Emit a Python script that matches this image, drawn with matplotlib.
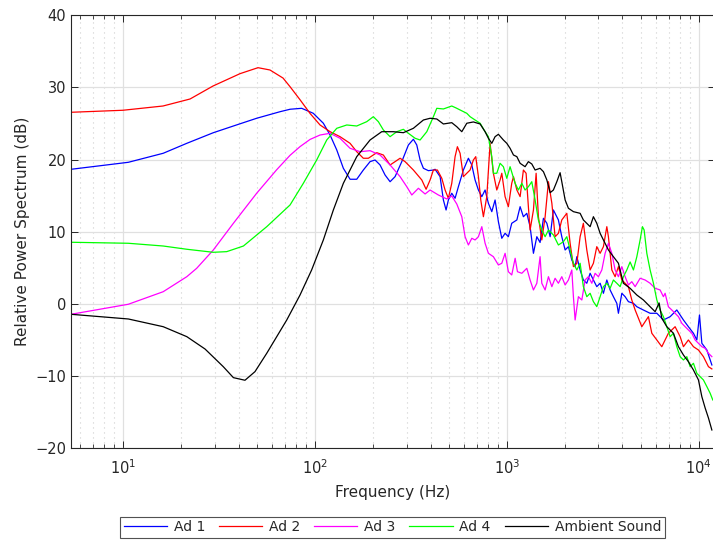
import matplotlib
matplotlib.use('Agg')
import matplotlib.pyplot as plt
from matplotlib.ticker import LogLocator, MultipleLocator, NullFormatter

# frequencies in Hz and relative power in dB
ad1_f = [5.36, 10.66, 16.2, 21.5, 29.55, 37.6, 49.7, 65.8, 74.2, 85.3, 98, 110.6, 119.9, 129.9, 140.6,
         152.4, 165.1, 178.7, 193.7, 205.7, 218.4, 231.9, 246.3, 261.5, 283.4, 306.8, 325.7, 339.2, 353,
         367.3, 390, 414.1, 422.6, 448.7, 466.8, 482.1, 495.6, 516.2, 537.1, 558.9, 593.4, 630.1, 656.4,
         682.8, 710.6, 740.1, 769.9, 801, 834.3, 867.9, 903.1, 940.7, 978.6, 1018, 1060, 1127, 1172, 1219,
         1270, 1321, 1375, 1432, 1489, 1550, 1615, 1680, 1747, 1855, 1932, 2011, 2092, 2179, 2267, 2314,
         2407, 2503, 2608, 2714, 2823, 2940, 3060, 3183, 3316, 3450, 3589, 3738, 3811, 3970, 4130, 4296,
         4563, 4753, 5144, 5574, 6042, 6538, 7087, 7678, 8313, 8823, 9373, 9763, 10079, 10369, 11013, 11690]
ad1_db = [18.66, 19.63, 20.88, 22.26, 23.73, 24.66, 25.73, 26.64, 26.98, 27.11, 26.42, 25.04, 23.41, 21.34, 18.8,
          17.28, 17.28, 18.56, 19.72, 19.95, 19.26, 17.87, 16.94, 17.64, 19.72, 22.03, 22.82, 22.03, 19.95,
          18.8, 18.47, 18.56, 18.66, 17.64, 14.41, 13.02, 14.41, 15.34, 14.64, 16.25, 18.56, 20.19, 19.26,
          17.18, 15.79, 14.87, 15.79, 13.95, 12.79, 14.41, 11.4, 9.1, 9.79, 9.32, 11.18, 11.64, 13.48, 12.09,
          12.56, 10.71, 7.02, 9.32, 8.52, 11.87, 11.18, 9.32, 13.02, 11.64, 9.32, 7.48, 7.94, 6.09, 5.17, 6.55,
          4.71, 3.32, 2.87, 4.25, 3.32, 2.4, 2.87, 1.48, 3.32, 1.94, 1.01, 0.09, -1.29, 1.48, 1.01, 0.32,
          0.09, -0.38, -0.84, -1.29, -1.29, -2.22, -1.76, -0.83, -2.22, -3.15, -4.06, -4.99, -1.53, -5.45, -6.38, -8.45]

ad2_f = [5.36, 10.0, 16.16, 22.35, 29.44, 40.7, 50.5, 58.3, 68.2, 74.2, 83.6, 94.3, 106.3, 119.9, 135.1,
         152.4, 165.1, 178.7, 189.8, 209.9, 227.2, 246.3, 261.5, 277.7, 294.8, 325.7, 360.3, 379.4, 398,
         414.1, 434.5, 458, 476.4, 495.6, 516.2, 537.1, 552.2, 570.4, 593.4, 618.1, 643.1, 669, 688.3, 710.6,
         731, 754.4, 785.8, 817.5, 850.4, 885.8, 921.7, 940.7, 978.6, 1018, 1060, 1082, 1127, 1172, 1219,
         1259, 1294, 1321, 1375, 1420, 1459, 1520, 1582, 1646, 1715, 1783, 1855, 1932, 2052, 2135, 2221,
         2314, 2407, 2503, 2608, 2714, 2823, 2940, 3060, 3183, 3316, 3380, 3521, 3663, 3811, 3970, 4130,
         4296, 4475, 4657, 5046, 5462, 5689, 6042, 6413, 6940, 7523, 7991, 8313, 8823, 9373, 9955, 10568,
         11223, 11690]
ad2_db = [26.56, 26.84, 27.43, 28.4, 30.2, 31.91, 32.74, 32.42, 31.3, 30.1, 28.3, 26.4, 24.8, 23.87, 23.18,
          22.26, 21.1, 20.19, 20.19, 20.96, 20.64, 19.26, 19.72, 20.19, 19.72, 18.56, 17.18, 15.89, 17.18,
          18.56, 18.56, 17.41, 15.79, 14.64, 16.72, 20.41, 21.79, 20.88, 17.64, 18.11, 18.56, 19.95, 20.41, 17.64,
          14.41, 12.09, 14.87, 22.26, 18.11, 15.79, 17.18, 18.11, 14.87, 13.48, 16.72, 17.64, 15.79, 14.87, 18.56,
          18.11, 13.48, 10.25, 13.02, 18.11, 12.09, 8.87, 12.09, 16.94, 13.95, 9.32, 9.79, 11.64, 12.56, 8.41, 5.17,
          5.64, 9.32, 11.18, 7.48, 4.71, 5.64, 7.94, 7.02, 7.94, 10.71, 9.32, 4.71, 3.78, 5.17, 3.32, 2.87,
          2.4, 0.55, -0.83, -3.15, -1.76, -4.06, -4.99, -5.92, -4.06, -3.15, -4.53, -5.92, -4.99, -5.92, -6.38, -7.3,
          -8.69, -9.0]

ad3_f = [5.36, 10.66, 16.2, 21.5, 24.2, 29.55, 37.6, 49.7, 63.2, 74.2, 83.6, 94.3, 106.3, 119.9, 135.1,
         152.4, 171.8, 193.7, 218.4, 246.3, 277.7, 300.9, 319.6, 345.9, 374.9, 398, 439.6, 486.2, 516.2,
         548.2, 582.2, 605.6, 630.1, 656.4, 682.8, 710.6, 740.1, 769.9, 801, 850.4, 903.1, 940.7, 978.6,
         1018, 1060, 1104, 1135, 1196, 1270, 1321, 1375, 1432, 1489, 1520, 1582, 1646, 1715, 1783, 1855,
         1932, 2011, 2092, 2179, 2221, 2267, 2358, 2457, 2555, 2659, 2770, 2881, 2998, 3123, 3249, 3380,
         3521, 3663, 3811, 3970, 4130, 4296, 4475, 4657, 4944, 5250, 5574, 5920, 6284, 6538, 6673, 6940,
         7233, 7523, 7830, 8156, 8484, 8823, 9196, 9566, 9955, 10369, 10786, 11223, 11690]
ad3_db = [-1.43, -0.04, 1.7, 3.78, 4.94, 7.48, 11.18, 15.34, 18.6, 20.6, 21.8, 22.8, 23.41, 23.65, 22.96,
          21.57, 21.1, 21.24, 20.64, 19.26, 17.64, 16.25, 15.1, 16.03, 15.24, 15.79, 15.1, 14.55, 14.96,
          13.85, 12.09, 9.32, 8.17, 9.1, 8.87, 9.32, 10.71, 8.41, 7.02, 6.55, 5.4, 5.64, 7.02,
          4.47, 4.02, 6.33, 4.47, 4.25, 4.94, 3.32, 1.94, 2.87, 6.55, 2.87, 1.94, 3.78, 2.4, 3.56, 2.87,
          3.78, 2.63, 3.32, 4.71, 1.01, -2.22, 1.01, 0.55, 3.32, 3.78, 2.87, 4.25, 3.78, 4.71, 7.02, 8.41,
          7.02, 4.71, 3.78, 5.17, 3.78, 2.63, 3.09, 2.4, 3.56, 3.32, 2.87, 2.17, 1.94, 1.01, 1.48, -0.38,
          -0.84, -1.29, -1.76, -2.68, -3.15, -3.6, -4.06, -4.99, -5.45, -5.92, -6.14, -6.83, -7.3]

ad4_f = [5.36, 10.66, 16.2, 21.5, 29.55, 34.7, 42.4, 56.1, 74.2, 87, 102.1, 115.2, 129.9, 146.5, 165.1,
         186.2, 201.5, 214, 227.2, 246.3, 266.9, 288.8, 306.8, 332.4, 353, 382.6, 414.1, 431.3, 466.8,
         516.2, 543.5, 570.4, 618.1, 643.1, 682.8, 725.2, 769.9, 801, 834.3, 850.4, 885.8, 921.7, 958.8,
         998.8, 1039, 1104, 1148, 1196, 1244, 1294, 1348, 1403, 1459, 1520, 1582, 1646, 1747, 1855, 1970,
         2052, 2135, 2221, 2314, 2407, 2503, 2608, 2714, 2823, 2940, 3060, 3183, 3316, 3450, 3589, 3738,
         3890, 4047, 4215, 4385, 4563, 4753, 4944, 5083, 5188, 5358, 5574, 5800, 6042, 6284, 6538, 6810,
         7087, 7371, 7678, 7991, 8313, 8659, 9010, 9373, 9763, 10160, 10568, 11013, 11454, 11820]
ad4_db = [8.55, 8.41, 8.03, 7.58, 7.16, 7.25, 8.03, 10.71, 13.72, 16.72, 19.95, 22.72, 24.34, 24.8, 24.66,
          25.26, 25.95, 25.26, 24.11, 23.18, 23.87, 24.2, 23.65, 22.96, 22.72, 23.87, 25.95, 27.11, 27.02,
          27.43, 27.16, 26.88, 26.42, 25.95, 25.49, 25.04, 23.87, 23.18, 20.41, 18.11, 18.11, 19.49, 19.02,
          17.41, 19.02, 16.72, 15.79, 16.72, 15.79, 16.25, 16.94, 14.41, 11.64, 10.25, 9.32, 10.25, 9.56, 8.17, 8.63,
          9.32, 7.48, 5.64, 4.71, 5.64, 2.4, 1.01, 1.48, 0.32, -0.37, 1.01, 2.4, 2.87, 2.17, 3.32, 2.87,
          2.4, 3.78, 4.71, 5.82, 4.71, 6.55, 8.87, 10.71, 10.25, 7.02, 4.71, 2.87, 0.55, -0.83, -1.76, -3.15,
          -4.53, -4.06, -5.92, -7.3, -7.76, -7.3, -8.69, -8.22, -9.61, -10.08, -10.53, -11.46, -12.37, -13.3]

amb_f = [5.36, 10.66, 16.2, 21.5, 26.75, 33.3, 37.6, 43.2, 48.7, 56.1, 71.3, 83.6, 96.1, 110.6, 124.7,
         140.6, 165.1, 193.7, 222.8, 256.2, 288.8, 325.7, 367.3, 398, 431.3, 466.8, 516.2, 548.2, 582.2,
         618.1, 669, 725.2, 769.9, 801, 834.3, 867.9, 903.1, 958.8, 998.8, 1039, 1082, 1127, 1172, 1244,
         1294, 1348, 1403, 1489, 1550, 1615, 1680, 1747, 1820, 1893, 1932, 2011, 2092, 2221, 2407, 2503,
         2714, 2823, 2940, 3060, 3183, 3380, 3589, 3811, 4047, 4385, 4753, 5144, 5574, 5920, 6209, 6413,
         6810, 7371, 7830, 8313, 8823, 9373, 9955, 10369, 10786, 11223, 11690]
amb_db = [-1.43, -2.08, -3.15, -4.53, -6.24, -8.69, -10.21, -10.57, -9.38, -6.83, -2.22, 1.24, 4.71, 8.87, 13.02,
          16.72, 20.41, 22.72, 23.87, 23.87, 23.73, 24.34, 25.49, 25.73, 25.63, 24.94, 25.12, 24.56, 23.87,
          25.04, 25.22, 24.94, 23.87, 22.96, 22.26, 23.18, 23.51, 22.72, 22.26, 21.57, 20.64, 20.41, 19.49, 19.02,
          19.72, 19.4, 18.56, 18.8, 18.33, 17.18, 15.42, 15.79, 16.94, 18.19, 16.94, 14.41, 13.26, 12.79, 12.56, 11.64,
          10.71, 12.09, 11.18, 9.79, 8.87, 7.48, 6.55, 5.64, 2.87, 2.17, 1.24, 0.55, -0.38, -1.07, 0.14, -1.98,
          -3.15, -4.06, -5.92, -7.07, -7.99, -9.15, -10.53, -12.85, -14.41, -15.8, -17.46]

series_names = ['Ad 1', 'Ad 2', 'Ad 3', 'Ad 4', 'Ambient Sound']
series_f = [ad1_f, ad2_f, ad3_f, ad4_f, amb_f]
series_db = [ad1_db, ad2_db, ad3_db, ad4_db, amb_db]
colores = ['#0000ff', '#ff0000', '#ff00ff', '#00ff00', '#000000']

txt = '#262626'
plt.rcParams['font.family'] = 'DejaVu Sans'
plt.rcParams['font.size'] = 10.5
plt.rcParams['mathtext.default'] = 'regular'

fig = plt.figure(figsize=(7.13, 5.4), dpi=100)
ax = fig.add_axes([0.0996, 0.1698, 0.9034, 0.8019])

for i in range(len(series_names)):
  ax.plot(series_f[i], series_db[i], color=colores[i], lw=0.9, label=series_names[i])

ax.set_xscale('log')
ax.set_xlim(5.36, 12160)
ax.set_ylim(-20, 40)
ax.yaxis.set_major_locator(MultipleLocator(10))
ax.xaxis.set_major_locator(LogLocator(base=10, numticks=10))
ax.xaxis.set_minor_locator(LogLocator(base=10, subs=range(2, 10), numticks=20))
ax.xaxis.set_minor_formatter(NullFormatter())

ax.grid(True, which='major', color='#e0e0e0', lw=0.9, ls='-')
ax.grid(True, which='minor', axis='x', color='#cfcfcf', lw=0.8, ls=(0, (1, 3.5)))
ax.set_axisbelow(True)

ax.tick_params(which='both', direction='in', top=True, right=True, colors=txt, labelsize=10.5)
ax.tick_params(which='major', length=5, width=0.7)
ax.tick_params(which='minor', length=3, width=0.6)
ax.tick_params(axis='x', which='major', pad=7)
for s in ax.spines.values():
  s.set_color(txt)
  s.set_linewidth(0.8)

ax.set_xlabel('Frequency (Hz)', color=txt, fontsize=11, labelpad=6)
ax.set_ylabel('Relative Power Spectrum (dB)', color=txt, fontsize=11)

leg = fig.legend(loc='center', bbox_to_anchor=(0.5505, 0.024), ncol=5, fontsize=10,
                 frameon=True, fancybox=False, edgecolor=txt, handlelength=3.1,
                 columnspacing=1.0, handletextpad=0.5, borderpad=0.25, borderaxespad=0)
leg.get_frame().set_linewidth(0.8)
for t in leg.get_texts():
  t.set_color(txt)

plt.savefig('out.png', dpi=100)
